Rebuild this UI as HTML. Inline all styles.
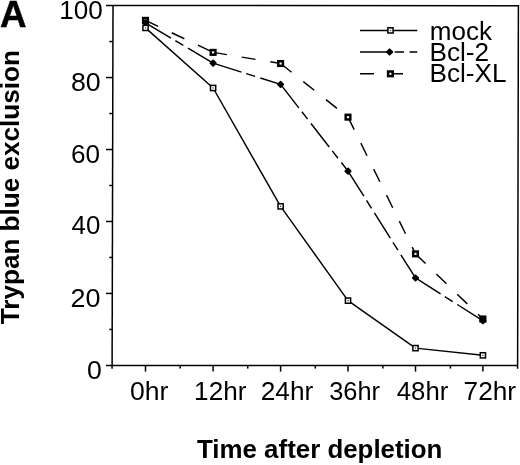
<!DOCTYPE html>
<html><head><meta charset="utf-8"><style>
html,body{margin:0;padding:0;background:#fff;}
body{width:520px;height:465px;overflow:hidden;}
svg{display:block;will-change:transform;}
text{font-family:"Liberation Sans",sans-serif;fill:#000;}
.r{font-size:25px;}
.b{font-size:25px;font-weight:bold;}
.A{font-size:37.5px;font-weight:bold;stroke:#000;stroke-width:0.5px;}
</style></head><body>
<svg width="520" height="465" viewBox="0 0 520 465">
<rect width="520" height="465" fill="#fff"/>
<g stroke="#000" stroke-width="1.5" fill="none">
<line x1="113.0" y1="5.5" x2="112.1" y2="368.8" />
<path d="M106 5.5L518.4 5.8L517.6 368.8" />
<line x1="106" y1="365.4" x2="518.0" y2="365.4" />
<line x1="109.3" y1="329.42" x2="112.6" y2="329.42" />
<line x1="106" y1="293.44" x2="112.6" y2="293.44" />
<line x1="109.3" y1="257.46" x2="112.6" y2="257.46" />
<line x1="106" y1="221.48" x2="112.6" y2="221.48" />
<line x1="109.3" y1="185.50" x2="112.6" y2="185.50" />
<line x1="106" y1="149.52" x2="112.6" y2="149.52" />
<line x1="109.3" y1="113.54" x2="112.6" y2="113.54" />
<line x1="106" y1="77.56" x2="112.6" y2="77.56" />
<line x1="109.3" y1="41.58" x2="112.6" y2="41.58" />
<line x1="180.17" y1="365.4" x2="180.17" y2="368.6" />
<line x1="247.73" y1="365.4" x2="247.73" y2="368.6" />
<line x1="315.30" y1="365.4" x2="315.30" y2="368.6" />
<line x1="382.87" y1="365.4" x2="382.87" y2="368.6" />
<line x1="450.43" y1="365.4" x2="450.43" y2="368.6" />
<line x1="145.50" y1="365.4" x2="145.50" y2="371.6" />
<line x1="213.10" y1="365.4" x2="213.10" y2="371.6" />
<line x1="280.60" y1="365.4" x2="280.60" y2="371.6" />
<line x1="348.00" y1="365.4" x2="348.00" y2="371.6" />
<line x1="415.50" y1="365.4" x2="415.50" y2="371.6" />
<line x1="482.90" y1="365.4" x2="482.90" y2="371.6" />
</g>
<g stroke="#000" stroke-width="1.45" fill="none">
<line x1="145.50" y1="27.91" x2="213.10" y2="87.99" />
<line x1="213.10" y1="87.99" x2="280.60" y2="206.37" />
<line x1="280.60" y1="206.37" x2="348.00" y2="300.64" />
<line x1="348.00" y1="300.64" x2="415.50" y2="348.13" />
<line x1="415.50" y1="348.13" x2="482.90" y2="355.33" />
<line x1="145.50" y1="22.87" x2="213.10" y2="63.17" stroke-dasharray="29.7 5 9.3 5.5" />
<line x1="213.10" y1="63.17" x2="280.60" y2="84.40" stroke-dasharray="29.7 5 9.3 5.5" />
<line x1="280.60" y1="84.40" x2="348.00" y2="171.11" stroke-dasharray="29.7 5 9.3 5.5" />
<line x1="348.00" y1="171.11" x2="415.50" y2="277.97" stroke-dasharray="29.7 5 9.3 5.5" />
<line x1="415.50" y1="277.97" x2="482.90" y2="320.78" stroke-dasharray="29.7 5 9.3 5.5" />
<line x1="145.50" y1="20.35" x2="213.10" y2="52.37" stroke-dasharray="14 15" />
<line x1="213.10" y1="52.37" x2="280.60" y2="63.53" stroke-dasharray="14 15" />
<line x1="280.60" y1="63.53" x2="348.00" y2="117.14" stroke-dasharray="14 15" />
<line x1="348.00" y1="117.14" x2="415.50" y2="253.86" stroke-dasharray="14 15" />
<line x1="415.50" y1="253.86" x2="482.90" y2="318.99" stroke-dasharray="14 15" />
<line x1="360" y1="30.4" x2="417.3" y2="30.4" />
<line x1="360" y1="52" x2="417.3" y2="52" stroke-dasharray="29.7 5 9.3 5.5"/>
<line x1="360" y1="73.8" x2="417.3" y2="73.8" stroke-dasharray="14 15"/>
</g>
<g>
<rect x="143.20" y="18.05" width="4.6" height="4.6" fill="#fff" stroke="#000" stroke-width="2.5"/>
<rect x="210.80" y="50.07" width="4.6" height="4.6" fill="#fff" stroke="#000" stroke-width="2.5"/>
<rect x="278.30" y="61.23" width="4.6" height="4.6" fill="#fff" stroke="#000" stroke-width="2.5"/>
<rect x="345.70" y="114.84" width="4.6" height="4.6" fill="#fff" stroke="#000" stroke-width="2.5"/>
<rect x="413.20" y="251.56" width="4.6" height="4.6" fill="#fff" stroke="#000" stroke-width="2.5"/>
<rect x="480.60" y="316.69" width="4.6" height="4.6" fill="#fff" stroke="#000" stroke-width="2.5"/>
<path d="M142.80 22.87L145.50 20.17L148.20 22.87L145.50 25.57Z" fill="#000" stroke="#000" stroke-width="1.8" stroke-linejoin="round"/>
<path d="M210.40 63.17L213.10 60.47L215.80 63.17L213.10 65.87Z" fill="#000" stroke="#000" stroke-width="1.8" stroke-linejoin="round"/>
<path d="M277.90 84.40L280.60 81.70L283.30 84.40L280.60 87.10Z" fill="#000" stroke="#000" stroke-width="1.8" stroke-linejoin="round"/>
<path d="M345.30 171.11L348.00 168.41L350.70 171.11L348.00 173.81Z" fill="#000" stroke="#000" stroke-width="1.8" stroke-linejoin="round"/>
<path d="M412.80 277.97L415.50 275.27L418.20 277.97L415.50 280.67Z" fill="#000" stroke="#000" stroke-width="1.8" stroke-linejoin="round"/>
<path d="M480.20 320.78L482.90 318.08L485.60 320.78L482.90 323.48Z" fill="#000" stroke="#000" stroke-width="1.8" stroke-linejoin="round"/>
<rect x="142.90" y="25.31" width="5.2" height="5.2" fill="#fff" stroke="#000" stroke-width="1.5"/><rect x="144.90" y="27.31" width="1.2" height="1.2" fill="#333"/>
<rect x="210.50" y="85.39" width="5.2" height="5.2" fill="#fff" stroke="#000" stroke-width="1.5"/><rect x="212.50" y="87.39" width="1.2" height="1.2" fill="#333"/>
<rect x="278.00" y="203.77" width="5.2" height="5.2" fill="#fff" stroke="#000" stroke-width="1.5"/><rect x="280.00" y="205.77" width="1.2" height="1.2" fill="#333"/>
<rect x="345.40" y="298.04" width="5.2" height="5.2" fill="#fff" stroke="#000" stroke-width="1.5"/><rect x="347.40" y="300.04" width="1.2" height="1.2" fill="#333"/>
<rect x="412.90" y="345.53" width="5.2" height="5.2" fill="#fff" stroke="#000" stroke-width="1.5"/><rect x="414.90" y="347.53" width="1.2" height="1.2" fill="#333"/>
<rect x="480.30" y="352.73" width="5.2" height="5.2" fill="#fff" stroke="#000" stroke-width="1.5"/><rect x="482.30" y="354.73" width="1.2" height="1.2" fill="#333"/>
<rect x="387.90" y="27.80" width="5.2" height="5.2" fill="#fff" stroke="#000" stroke-width="1.5"/><rect x="389.90" y="29.80" width="1.2" height="1.2" fill="#333"/><path d="M386.90 52.00L389.60 49.30L392.30 52.00L389.60 54.70Z" fill="#000" stroke="#000" stroke-width="1.8" stroke-linejoin="round"/><rect x="388.10" y="71.50" width="4.6" height="4.6" fill="#fff" stroke="#000" stroke-width="2.5"/>
</g>
<g>
<text id="A" transform="translate(0.020,26.6) scale(0.9804,1)" class="A">A</text>
<text id="y100" transform="translate(59.321,19.0) scale(1.0441,1)" class="r">100</text>
<text id="y80" transform="translate(70.875,91.2) scale(1.0695,1)" class="r">80</text>
<text id="y60" transform="translate(70.907,163.2) scale(1.0458,1)" class="r">60</text>
<text id="y40" transform="translate(71.548,234.4) scale(1.0351,1)" class="r">40</text>
<text id="y20" transform="translate(70.506,307.0) scale(1.0784,1)" class="r">20</text>
<text id="y0" transform="translate(87.061,379.1) scale(1.0648,1)" class="r">0</text>
<text id="x0" transform="translate(129.952,399.5) scale(1.0632,1)" class="r">0hr</text>
<text id="x12" transform="translate(194.118,399.7) scale(1.0439,1)" class="r">12hr</text>
<text id="x24" transform="translate(260.740,399.7) scale(1.0517,1)" class="r">24hr</text>
<text id="x36" transform="translate(329.169,399.7) scale(1.0151,1)" class="r">36hr</text>
<text id="x48" transform="translate(396.773,399.7) scale(1.0307,1)" class="r">48hr</text>
<text id="x72" transform="translate(463.546,399.7) scale(1.0500,1)" class="r">72hr</text>
<text id="xt" transform="translate(197.000,458.0) scale(1.0356,1)" class="b">Time after depletion</text>
<text id="mock" transform="translate(429.739,39.5) scale(1.0415,1)" class="r">mock</text>
<text id="b2" transform="translate(429.500,60.9) scale(1.0465,1)" class="r">Bcl-2</text>
<text id="bx" transform="translate(429.502,82.4) scale(1.0465,1)" class="r">Bcl-XL</text>
<text id="yt" transform="translate(18.8,324.192) rotate(-90) scale(1.0444,1)" class="b">Trypan blue exclusion</text>
</g>
</svg>
</body></html>
